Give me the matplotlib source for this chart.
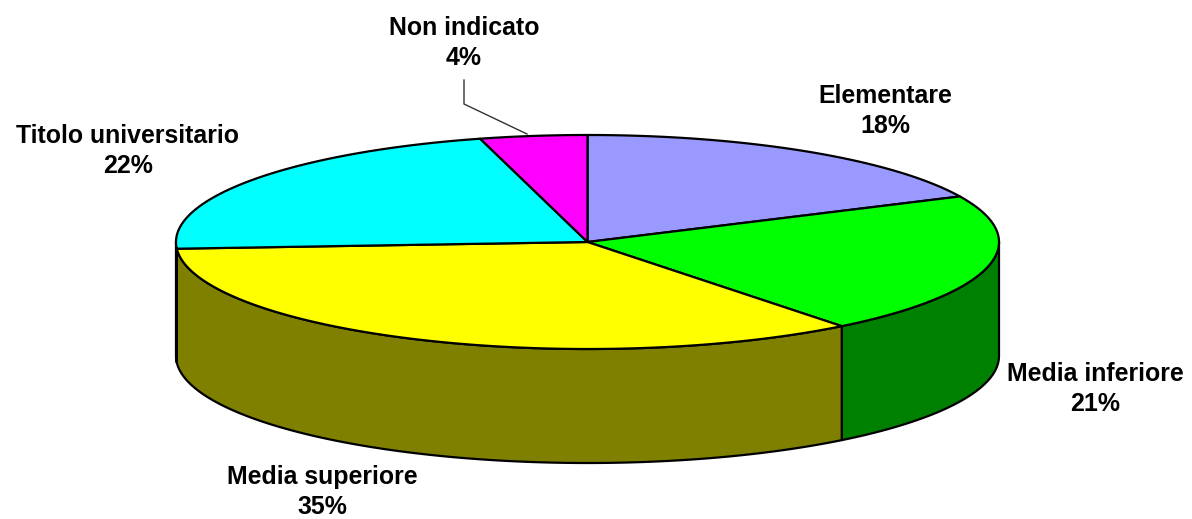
import numpy as np
import matplotlib
matplotlib.use('Agg')
import matplotlib.pyplot as plt

plt.rcParams['font.family'] = ['Liberation Sans', 'DejaVu Sans']

# ==========================================
# Data
# ==========================================
labels = ['Elementare', 'Media inferiore', 'Media superiore', 'Titolo universitario', 'Non indicato']
# slightly finer than the printed percents
shares = [18.0, 21.4, 34.6, 21.8, 4.2]
top_colors = ['#9999FF', '#00FF00', '#FFFF00', '#00FFFF', '#FF00FF']
wall_colors = ['#4D4D80', '#008000', '#808000', '#008080', '#800080']
label_pos = [(885, 111), (1095, 389), (322, 492), (128, 151), (464, 43)]

# pie geometry in image pixels
cx, cy = 587.5, 242
rx, ry = 411.5, 107
depth = 114
WIDTH, HEIGHT = 1192, 519


def rim(t0, t1, drop=0):
    # t is the clockwise angle from the top of the pie
    t = np.radians(np.linspace(t0, t1, max(int(abs(t1 - t0) * 3), 2)))
    return cx + rx * np.sin(t), cy - ry * np.cos(t) + drop


fig = plt.figure(figsize=(WIDTH / 100, HEIGHT / 100), dpi=100)
ax = fig.add_axes([0, 0, 1, 1])
ax.set_xlim(0, WIDTH)
ax.set_ylim(HEIGHT, 0)
ax.axis('off')

edges = np.concatenate([[0], np.cumsum(shares)]) / np.sum(shares) * 360

# side walls: only the front half of the rim shows
for i in range(len(shares)):
    t0 = max(edges[i], 90)
    t1 = min(edges[i + 1], 270)
    if t1 <= t0:
        continue
    xt, yt = rim(t0, t1)
    xb, yb = rim(t0, t1, depth)
    ax.fill(np.r_[xt, xb[::-1]], np.r_[yt, yb[::-1]], facecolor=wall_colors[i],
            edgecolor='black', linewidth=1.6, joinstyle='round', zorder=2)

# top face
for i in range(len(shares)):
    x, y = rim(edges[i], edges[i + 1])
    ax.fill(np.r_[cx, x], np.r_[cy, y], facecolor=top_colors[i],
            edgecolor='black', linewidth=1.6, joinstyle='round', zorder=3)

# labels
for name, share, (lx, ly) in zip(labels, shares, label_pos):
    ax.text(lx, ly, f'{name}\n{round(share)}%', ha='center', va='center', fontsize=17.9,
            fontweight='bold', color='black', linespacing=1.33, zorder=5)

# leader line for the small slice
ax.plot([464, 464, 527], [80, 104, 134], color='#333333', linewidth=1.0, zorder=4)

fig.savefig('out.png', dpi=100)
